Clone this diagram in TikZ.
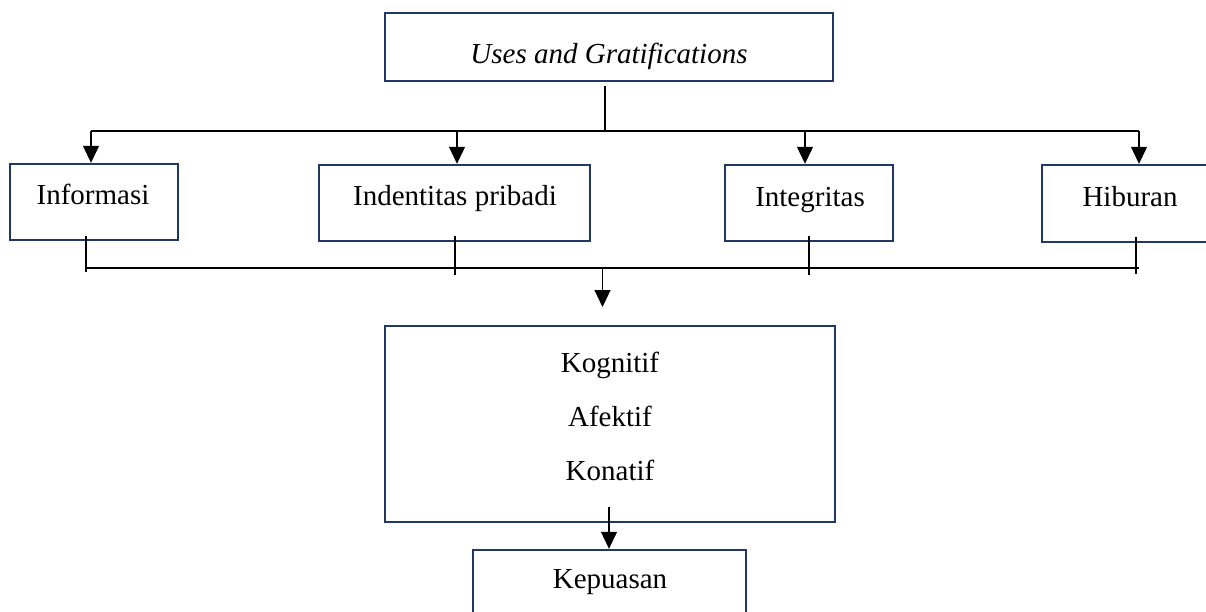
\documentclass[tikz,border=0pt]{standalone}
\usepackage{fontspec}
\setmainfont{Liberation Serif}
\usetikzlibrary{arrows.meta}
\definecolor{navy}{HTML}{1F3864}
\begin{document}
\begin{tikzpicture}[x=1pt,y=-1pt,
  box/.style={draw=navy,line width=2.4pt,rectangle,inner sep=0pt,fill=none},
  lbl/.style={anchor=base,inner sep=0pt,font=\fontsize{29}{35}\selectfont},
  conn/.style={draw=black,line width=1.1pt},
  arr/.style={conn,-{Triangle[width=16pt,length=17pt]}}]
\clip (0,0) rectangle (1206,611);
\fill[white] (0,0) rectangle (1206,611);
% boxes
\node[box,minimum width=448pt,minimum height=68pt] (top) at (609,47) {};
\node[box,minimum width=168pt,minimum height=76pt] (info) at (94,202) {};
\node[box,minimum width=271pt,minimum height=76pt] (ident) at (454.5,203) {};
\node[box,minimum width=168pt,minimum height=76pt] (integ) at (809,203) {};
\node[box,minimum width=173pt,minimum height=77pt] (hib) at (1128.5,203.5) {};
\node[box,minimum width=450pt,minimum height=196pt] (mid) at (610,424) {};
\node[box,minimum width=273pt,minimum height=90pt] (kep) at (609.5,595) {};
% texts
\node[lbl] (topT) at (609,63) {\itshape Uses and Gratifications};
\node[lbl] (infoT) at (93,204) {Informasi};
\node[lbl] (identT) at (455,205) {Indentitas pribadi};
\node[lbl] (integT) at (810,206) {Integritas};
\node[lbl] (hibT) at (1130,206) {Hiburan};
\node[lbl] (k1) at (610,372) {Kognitif};
\node[lbl] (k2) at (610,426) {Afektif};
\node[lbl] (k3) at (610,480) {Konatif};
\node[lbl] (kepT) at (610,588) {Kepuasan};
% connector points
\coordinate (ts) at (605,86);
\coordinate (tj) at (605,131);
\coordinate (t1) at (91,131);
\coordinate (t2) at (457,131);
\coordinate (t3) at (805,131);
\coordinate (t4) at (1139,131);
\coordinate (b1s) at (86,236);
\coordinate (b1e) at (86,272);
\coordinate (b2s) at (455,236);
\coordinate (b2e) at (455,275);
\coordinate (b3s) at (809,236);
\coordinate (b3e) at (809,275);
\coordinate (b4s) at (1136,237);
\coordinate (b4e) at (1136,274);
\coordinate (bl) at (86,268);
\coordinate (br) at (1139,268);
\coordinate (bm) at (602.5,268);
\coordinate (bmt) at (602.5,307);
\coordinate (ms) at (609,507);
% top connectors
\draw[conn] (ts) -- (tj);
\draw[conn] (t1) -- (t4);
\draw[arr] (t1) -- (t1 |- info.north);
\draw[arr] (t2) -- (t2 |- ident.north);
\draw[arr] (t3) -- (t3 |- integ.north);
\draw[arr] (t4) -- (t4 |- hib.north);
% bottom connectors
\draw[conn] (b1s) -- (b1e);
\draw[conn] (b2s) -- (b2e);
\draw[conn] (b3s) -- (b3e);
\draw[conn] (b4s) -- (b4e);
\draw[conn] (bl) -- (br);
\draw[arr] (bm) -- (bmt);
\draw[arr] (ms) -- (ms |- kep.north);
\end{tikzpicture}
\end{document}
